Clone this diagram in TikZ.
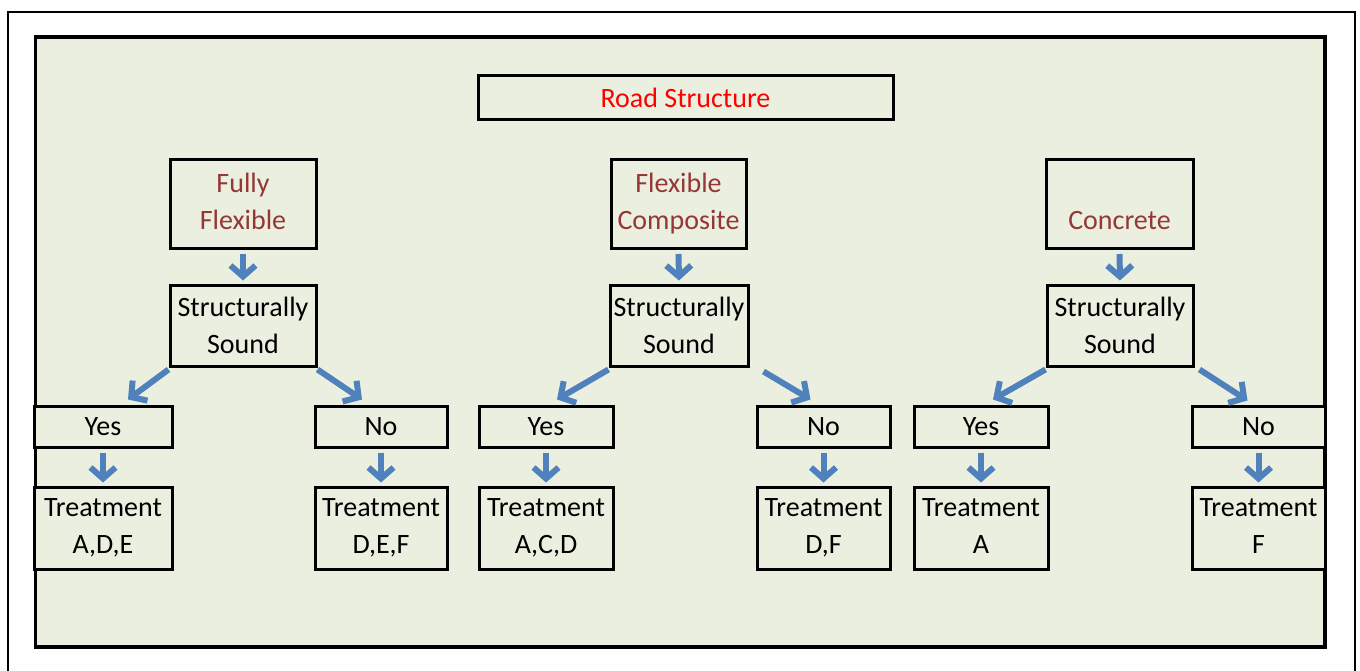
\documentclass[tikz,border=0pt]{standalone}
\usepackage{fontspec}
\setmainfont{Carlito}
\usetikzlibrary{arrows.meta}
\definecolor{panelgreen}{HTML}{EBEFDF}
\definecolor{arrowblue}{HTML}{4F81BD}
\definecolor{kindred}{HTML}{953735}
\tikzset{
  box/.style={draw, line width=3pt, fill=panelgreen, align=center, inner sep=0pt,
    font=\fontsize{28}{37}\selectfont},
  kind/.style={box, text=kindred, minimum height=89pt},
  sound/.style={box, minimum height=81pt},
  answer/.style={box, minimum height=41pt},
  treat/.style={box, minimum height=82pt},
  flow/.style={draw=arrowblue, line width=6pt, -{Straight Barb[length=11pt,width=25pt]}}
}
\begin{document}
\begin{tikzpicture}[x=1pt, y=-1pt]
    \useasboundingbox (0,0) rectangle (1360,671);
    \draw[line width=2pt] (8,671) -- (8,12) -- (1355,12) -- (1355,671);
    \draw[line width=3.5pt, fill=panelgreen] (35.5,37) rectangle (1325,647);

    \node[box, text=red, minimum width=415pt, minimum height=44pt] (road) at (685.5,98) {Road Structure};

    % pavement kinds
    \node[kind, minimum width=146pt] (ff) at (243,204) {\strut Fully\\\strut Flexible};
    \node[kind, minimum width=135pt] (fc) at (678.5,204) {\strut Flexible\\\strut Composite};
    \node[kind, minimum width=147pt] (cc) at (1119.5,204) {\strut\\\strut Concrete};

    \node[sound, minimum width=146pt] (ss1) at (243,325.5) {Structurally\\Sound};
    \node[sound, minimum width=138pt] (ss2) at (679,325.5) {Structurally\\Sound};
    \node[sound, minimum width=146pt] (ss3) at (1120,325.5) {Structurally\\Sound};

    % answers
    \node[answer, minimum width=138pt] (yes1) at (103,426.5) {Yes};
    \node[answer, minimum width=132pt] (no1) at (381,426.5) {No};
    \node[answer, minimum width=134pt] (yes2) at (546,426.5) {Yes};
    \node[answer, minimum width=133pt] (no2) at (823.5,426.5) {No};
    \node[answer, minimum width=134pt] (yes3) at (981,426.5) {Yes};
    \node[answer, minimum width=133pt] (no3) at (1258.5,426.5) {No};

    % treatments
    \node[treat, minimum width=138pt] (tr1) at (103,528) {\strut Treatment\\\strut A,D,E};
    \node[treat, minimum width=132pt] (tr2) at (381,528) {\strut Treatment\\\strut D,E,F};
    \node[treat, minimum width=134pt] (tr3) at (546,528) {\strut Treatment\\\strut A,C,D};
    \node[treat, minimum width=133pt] (tr4) at (823.5,528) {\strut Treatment\\\strut D,F};
    \node[treat, minimum width=134pt] (tr5) at (981,528) {\strut Treatment\\\strut A};
    \node[treat, minimum width=133pt] (tr6) at (1258.5,528) {\strut Treatment\\\strut F};

    \foreach \a/\b in {ff/ss1, fc/ss2, cc/ss3, yes1/tr1, no1/tr2, yes2/tr3, no2/tr4, yes3/tr5, no3/tr6}
        \draw[flow, shorten <=4pt, shorten >=3pt] (\a.south) -- (\b.north);

    \draw[flow] ([yshift=-2pt]ss1.south west) -- ([xshift=25pt,yshift=5pt]yes1.north);
    \draw[flow] ([yshift=-2pt]ss1.south east) -- ([xshift=-19pt,yshift=5pt]no1.north);
    \draw[flow] ([yshift=-2pt]ss2.south west) -- ([xshift=11pt,yshift=5pt]yes2.north);
    \draw[flow] ([xshift=14pt,yshift=-4pt]ss2.south east) -- ([xshift=-13pt,yshift=5pt]no2.north);
    \draw[flow] ([yshift=-2pt]ss3.south west) -- ([xshift=12pt,yshift=5pt]yes3.north);
    \draw[flow] ([xshift=5pt,yshift=-2pt]ss3.south east) -- ([xshift=-11pt,yshift=4pt]no3.north);
\end{tikzpicture}
\end{document}
